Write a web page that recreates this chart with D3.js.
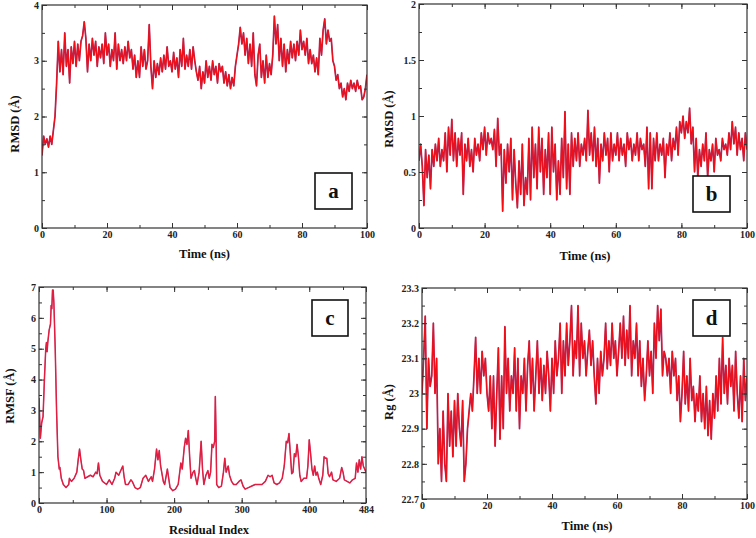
<!DOCTYPE html>
<html>
<head>
<meta charset="utf-8">
<script src="https://cdn.jsdelivr.net/npm/d3@7"></script>
<style>
  html, body { margin: 0; padding: 0; background: #fff; }
  svg { display: block; }
  .tick text { font-family: "Liberation Serif", "DejaVu Serif", serif; font-weight: bold; font-size: 10px; fill: #222; }
  .tick line { stroke: #333; stroke-width: 1; }
  .title { font-family: "Liberation Serif", "DejaVu Serif", serif; font-weight: bold; font-size: 12.5px; fill: #111; }
  .tag { font-family: "Liberation Serif", "DejaVu Serif", serif; font-weight: bold; font-size: 21px; fill: #111; }
</style>
</head>
<body>
<svg id="chart" width="756" height="538"></svg>
<script>
// ---------------- DATA ----------------
// time axis (ns), sampled every 0.5 ns
const timeNs = d3.range(0, 100.001, 0.5);

// (a) RMSD (Å) vs time
const rmsdA = [
  1.3,1.65,1.5,1.6,1.45,1.65,1.5,1.75,2.0,2.6,
  3.35,2.8,3.2,2.75,3.5,2.9,3.2,2.6,3.25,2.95,
  3.35,2.9,3.3,3.0,3.35,3.45,3.7,3.4,2.8,3.3,
  3.0,3.4,3.1,3.35,2.9,3.25,3.05,3.3,2.95,3.5,
  3.1,3.3,2.9,3.2,3.0,3.5,2.85,3.3,3.0,3.2,
  2.95,3.25,3.0,3.35,3.05,3.2,2.85,3.1,2.7,3.0,
  2.7,3.25,2.9,3.2,2.85,3.0,3.65,2.9,2.5,3.0,
  2.7,2.95,2.75,3.05,2.8,3.1,2.85,3.25,2.9,3.0,
  2.8,3.15,2.85,3.05,2.7,3.2,2.9,3.4,2.85,3.1,
  2.9,3.2,2.85,3.25,3.0,2.8,2.65,2.9,2.5,2.8,
  2.6,3.0,2.7,2.9,2.65,3.0,2.75,2.9,2.6,2.95,
  2.8,2.9,2.6,2.8,2.55,2.75,2.5,2.7,2.55,2.9,
  3.1,3.3,3.6,3.3,3.5,3.1,3.4,2.95,3.3,2.9,
  3.5,2.75,2.55,3.1,3.3,2.7,3.0,2.6,3.1,2.7,
  2.95,2.75,3.1,3.8,3.3,3.65,3.0,3.4,2.9,3.3,
  2.8,3.2,2.95,3.35,3.05,3.3,3.0,3.35,3.1,3.55,
  3.2,3.35,3.1,3.4,2.95,3.2,2.95,3.1,2.8,3.05,
  2.75,3.4,3.1,3.55,3.75,3.3,3.55,3.35,3.4,3.0,
  2.9,2.65,2.75,2.5,2.6,2.35,2.5,2.3,2.6,2.45,
  2.65,2.5,2.6,2.45,2.65,2.5,2.55,2.3,2.35,2.5,
  2.75
];

// (b) RMSD (Å) vs time
const rmsdB = [
  0.6,0.75,0.55,0.2,0.7,0.45,0.65,0.35,0.7,0.55,
  0.75,0.6,0.8,0.55,0.7,0.6,0.85,0.5,0.9,0.65,
  0.97,0.6,0.85,0.55,0.8,0.65,0.85,0.3,0.75,0.6,
  0.8,0.55,0.7,0.5,0.8,0.65,0.75,0.6,0.85,0.7,
  0.9,0.65,0.85,0.75,0.8,0.7,0.88,0.55,0.98,0.65,
  0.75,0.15,0.7,0.4,0.75,0.5,0.8,0.25,0.7,0.4,
  0.18,0.6,0.3,0.75,0.2,0.45,0.3,0.8,0.25,0.9,
  0.45,0.75,0.35,0.9,0.5,0.8,0.3,0.7,0.45,0.85,
  0.3,0.9,0.5,0.75,0.25,0.6,0.3,0.8,0.45,1.04,
  0.35,0.75,0.3,0.85,0.55,0.8,0.6,0.85,0.55,0.75,
  0.65,0.8,0.6,1.05,0.65,0.85,0.6,0.9,0.55,0.8,
  0.4,0.75,0.6,0.85,0.65,0.8,0.5,0.85,0.6,0.75,
  0.65,0.85,0.6,0.8,0.65,0.75,0.55,0.85,0.7,0.8,
  0.6,0.75,0.65,0.85,0.6,0.8,0.7,0.75,0.55,0.9,
  0.35,0.85,0.35,0.8,0.6,0.85,0.6,0.75,0.65,0.8,
  0.45,0.75,0.65,0.85,0.6,0.8,0.7,0.9,0.65,0.95,
  0.85,1.0,0.8,0.95,0.85,1.07,0.75,0.9,0.5,0.8,
  0.45,0.7,0.55,0.75,0.6,0.85,0.45,0.7,0.6,0.75,
  0.5,0.8,0.65,0.7,0.6,0.8,0.7,0.75,0.65,0.85,
  0.7,0.95,0.75,0.9,0.65,0.85,0.7,0.8,0.6,0.85,
  0.7
];

// (c) RMSF (Å) vs residue index
const residue = [
  0,2,4,6,8,10,11,12,13,15,17,18,19,20,21,22,24,26,28,30,31,33,36,40,44,45,48,52,56,58,
  60,62,64,66,68,72,76,80,84,86,88,90,94,100,104,108,112,114,118,122,124,126,128,132,136,138,142,146,150,154,
  158,162,166,168,171,174,176,178,180,184,186,190,192,194,198,202,206,210,212,215,217,219,221,223,225,228,230,232,234,237,
  240,242,244,247,250,252,254,256,258,260,261,262,263,266,270,273,275,277,280,282,285,288,292,296,299,302,305,310,315,320,
  325,330,335,339,342,345,348,352,356,360,363,366,368,370,372,374,376,378,380,382,384,386,388,392,396,398,400,402,404,406,
  408,410,412,414,417,420,422,424,426,428,430,433,435,440,445,448,450,452,456,460,464,468,470,472,474,476,478,480,482,484
];
const rmsf = [
  3.4,2.1,2.6,2.8,4.0,5.0,5.2,4.9,5.2,5.6,5.8,6.4,6.3,6.9,6.9,6.5,5.0,3.0,1.5,1.1,1.15,0.8,0.6,0.5,0.6,0.8,0.7,0.8,1.0,1.4,
  1.75,1.4,1.1,1.05,0.8,0.85,0.9,0.85,1.0,0.95,1.3,0.9,0.7,0.6,0.75,0.6,0.8,1.0,0.9,1.1,1.2,0.85,0.6,0.6,0.75,0.7,0.5,0.45,0.5,0.8,
  0.9,0.7,0.85,0.7,1.1,1.75,1.4,1.7,1.2,0.7,0.6,1.1,0.8,0.5,0.4,0.45,0.6,1.3,1.1,1.8,2.1,1.9,2.35,1.5,0.8,1.0,1.05,0.8,0.6,1.0,
  2.0,1.1,0.6,0.9,1.05,0.8,1.0,1.9,1.8,2.0,3.45,2.3,0.6,0.5,0.55,1.0,1.45,1.0,1.2,0.9,0.7,0.6,0.6,0.7,0.75,0.55,0.45,0.5,0.55,0.6,
  0.6,0.6,0.7,0.9,0.85,0.9,0.65,0.6,0.65,0.8,1.2,2.0,1.95,2.25,1.6,0.95,1.0,1.6,1.5,1.9,1.5,0.9,0.7,0.8,0.8,1.2,2.05,1.6,1.1,0.9,
  1.2,0.9,1.0,0.8,0.6,0.9,1.5,1.45,1.45,0.95,0.85,1.0,0.75,0.7,0.8,1.15,1.0,0.75,0.7,0.65,0.75,0.8,1.3,1.0,1.4,1.1,1.5,1.2,1.1,1.0
];

// (d) Rg (Å) vs time
const rg = [
  23.0,23.1,23.22,22.9,23.1,23.02,23.05,23.2,23.0,23.1,
  22.8,22.9,22.75,22.95,22.8,22.75,23.0,22.85,22.95,22.82,
  22.98,22.85,23.0,22.9,22.85,22.98,22.75,22.8,22.9,22.95,
  23.0,22.95,23.05,23.16,23.0,23.1,23.0,23.12,23.05,23.1,
  23.0,22.95,23.05,22.9,23.05,22.85,23.0,23.13,22.87,23.05,
  22.9,23.19,23.0,23.1,22.95,23.05,23.0,23.13,22.95,23.1,
  22.9,23.05,23.0,23.1,22.95,23.08,23.15,23.0,23.1,22.95,
  23.05,23.15,23.0,23.1,22.98,23.08,23.0,23.12,23.05,22.95,
  23.1,23.0,23.15,23.05,23.1,23.2,23.0,23.15,23.05,23.2,
  23.08,23.15,23.25,23.05,23.15,23.1,23.25,23.05,23.2,23.1,
  23.15,23.05,23.12,23.18,23.08,23.15,23.05,22.97,23.1,23.0,
  23.12,23.05,23.1,23.2,23.07,23.15,23.08,23.2,23.1,23.15,
  23.05,23.12,23.2,23.1,23.22,23.08,23.18,23.1,23.25,23.05,
  23.15,23.1,23.2,23.05,23.15,23.02,23.1,22.98,23.05,23.15,
  23.05,23.12,23.0,23.2,23.1,23.25,23.15,23.24,23.05,23.12,
  23.1,23.05,23.1,23.0,23.12,23.05,23.1,22.98,23.05,22.92,
  23.0,23.12,22.97,23.05,22.95,23.1,22.98,23.02,22.92,23.0,
  22.95,23.05,22.92,23.0,22.9,23.02,22.88,22.98,22.87,23.0,
  22.93,23.05,22.95,23.1,22.97,23.16,23.0,23.08,22.97,23.1,
  23.02,23.08,22.95,23.12,23.0,22.93,23.05,22.92,23.1,22.98,
  23.05
];

// tick labels / titles
const timeTicks = [0, 20, 40, 60, 80, 100];
const residueTicks = [0, 100, 200, 300, 400, 484];
const ticksA = [0, 1, 2, 3, 4];
const ticksB = [0, 0.5, 1, 1.5, 2];
const ticksC = [0, 1, 2, 3, 4, 5, 6, 7];
const ticksD = [22.7, 22.8, 22.9, 23, 23.1, 23.2, 23.3];
const panelTags = ["a", "b", "c", "d"];
const xTitles = ["Time (ns)", "Time (ns)", "Residual Index", "Time (ns)"];
const yTitles = ["RMSD (Å)", "RMSD (Å)", "RMSF (Å)", "Rg (Å)"];

// ---------------- LAYOUT ----------------
const svg = d3.select("#chart");
const fmt = d => String(+(+d).toFixed(2));

const panels = [
  { xs: timeNs, ys: rmsdA, xd: [0, 100], yd: [0, 4], xt: timeTicks, xm: d3.range(0, 101, 10), yt: ticksA, ym: d3.range(0, 4.01, 0.5),
    box: [42, 367, 5, 228], tag: [315, 173, 37, 36], xT: [204.5, 258], yT: [15, 124], thin: false },
  { xs: timeNs, ys: rmsdB, xd: [0, 100], yd: [0, 2], xt: timeTicks, xm: d3.range(0, 101, 10), yt: ticksB, ym: d3.range(0, 2.01, 0.25),
    box: [419, 747, 4, 228], tag: [693, 176, 37, 36], xT: [585, 260], yT: [389, 119], thin: false },
  { xs: residue, ys: rmsf, xd: [0, 484], yd: [0, 7], xt: residueTicks, xm: d3.range(0, 484, 50), yt: ticksC, ym: d3.range(0, 7.01, 0.5),
    box: [39, 366, 287, 503], tag: [312, 300, 36, 36], xT: [209, 534], yT: [10, 396], thin: true },
  { xs: timeNs, ys: rg, xd: [0, 100], yd: [22.7, 23.3], xt: timeTicks, xm: d3.range(0, 101, 10), yt: ticksD, ym: d3.range(22.7, 23.301, 0.05),
    box: [422, 747, 288, 499], tag: [693, 300, 37, 36], xT: [587, 530], yT: [389, 402], thin: false }
];

panels.forEach((p, i) => {
  const [x0, x1, y0, y1] = p.box;
  const x = d3.scaleLinear().domain(p.xd).range([x0, x1]);
  const y = d3.scaleLinear().domain(p.yd).range([y1, y0]);
  const g = svg.append("g");

  // clip
  const cid = "clip" + i;
  svg.append("clipPath").attr("id", cid).append("rect")
    .attr("x", x0).attr("y", y0).attr("width", x1 - x0).attr("height", y1 - y0);

  const pts = p.xs.map((v, k) => [v, p.ys[k]]);
  const line = d3.line().x(d => x(d[0])).y(d => y(d[1]));
  const lg = g.append("g").attr("clip-path", `url(#${cid})`);
  if (p.thin) {
    lg.append("path").datum(pts).attr("d", line)
      .attr("fill", "none").attr("stroke", "#c8285a").attr("stroke-width", 1.5).attr("stroke-linejoin", "round");
    lg.append("path").datum(pts).attr("d", line)
      .attr("fill", "none").attr("stroke", "#f01830").attr("stroke-width", 0.7).attr("stroke-linejoin", "round");
  } else {
    lg.append("path").datum(pts).attr("d", line)
      .attr("fill", "none").attr("stroke", "#a8285e").attr("stroke-width", 1.7).attr("stroke-linejoin", "round");
    lg.append("path").datum(pts).attr("d", line)
      .attr("fill", "none").attr("stroke", "#ff0a0a").attr("stroke-width", 0.9).attr("stroke-linejoin", "round");
  }

  // axes: major (labelled) on bottom/left, mirrored ticks top/right, minor ticks
  const mk = (axis, tr) => {
    const a = g.append("g").attr("transform", tr).call(axis);
    a.select(".domain").remove();
    return a;
  };
  mk(d3.axisBottom(x).tickValues(p.xt).tickSize(-5).tickPadding(3).tickFormat(fmt), `translate(0,${y1})`);
  mk(d3.axisBottom(x).tickValues(p.xm).tickSize(-3).tickFormat(""), `translate(0,${y1})`);
  mk(d3.axisTop(x).tickValues(p.xt).tickSize(-5).tickFormat(""), `translate(0,${y0})`);
  mk(d3.axisTop(x).tickValues(p.xm).tickSize(-3).tickFormat(""), `translate(0,${y0})`);
  mk(d3.axisLeft(y).tickValues(p.yt).tickSize(-5).tickPadding(3).tickFormat(fmt), `translate(${x0},0)`);
  mk(d3.axisLeft(y).tickValues(p.ym).tickSize(-3).tickFormat(""), `translate(${x0},0)`);
  mk(d3.axisRight(y).tickValues(p.yt).tickSize(-5).tickFormat(""), `translate(${x1},0)`);
  mk(d3.axisRight(y).tickValues(p.ym).tickSize(-3).tickFormat(""), `translate(${x1},0)`);

  // frame
  g.append("rect").attr("x", x0).attr("y", y0).attr("width", x1 - x0).attr("height", y1 - y0)
    .attr("fill", "none").attr("stroke", "#333").attr("stroke-width", 1.2);

  // titles
  g.append("text").attr("class", "title").attr("x", p.xT[0]).attr("y", p.xT[1])
    .attr("text-anchor", "middle").text(xTitles[i]);
  g.append("text").attr("class", "title")
    .attr("transform", `translate(${p.yT[0]},${p.yT[1]}) rotate(-90)`)
    .attr("dy", "0.35em").attr("text-anchor", "middle").text(yTitles[i]);

  // panel tag box
  const [bx, by, bw, bh] = p.tag;
  g.append("rect").attr("x", bx).attr("y", by).attr("width", bw).attr("height", bh)
    .attr("fill", "#fff").attr("stroke", "#111").attr("stroke-width", 1.6);
  g.append("text").attr("class", "tag").attr("x", bx + bw / 2).attr("y", by + bh / 2)
    .attr("dy", "0.32em").attr("text-anchor", "middle").text(panelTags[i]);
});
</script>
</body>
</html>
